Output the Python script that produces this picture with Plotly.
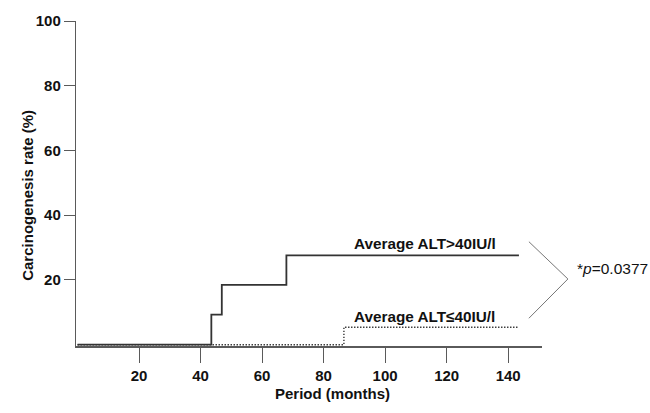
import plotly.graph_objects as go

# Data
high_x = [0, 43.5, 46.9, 67.9, 143.5]
high_y = [0, 9.3, 18.5, 27.6, 27.6]
low_x = [0, 86.6, 143.5]
low_y = [0, 5.4, 5.4]
x_ticks = [20, 40, 60, 80, 100, 120, 140]
y_ticks = [20, 40, 60, 80, 100]
label_high = "Average ALT>40IU/l"
label_low = "Average ALT≤40IU/l"
p_text = "*<i>p</i>=0.0377"

FONT = "Liberation Sans, Arial, sans-serif"
AX = "#5a5a5a"

fig = go.Figure()
fig.add_trace(go.Scatter(x=low_x, y=low_y, mode="lines", line_shape="hv",
                         line=dict(color="#333333", width=1.4, dash="1.4px,1.6px"),
                         hoverinfo="skip"))
fig.add_trace(go.Scatter(x=high_x, y=high_y, mode="lines", line_shape="hv",
                         line=dict(color="#333333", width=1.8),
                         hoverinfo="skip"))

ann = [
    dict(x=112.9, y=31.3, xref="x", yref="y", text="<b>%s</b>" % label_high,
         showarrow=False, font=dict(size=15.3, color="#111111", family=FONT)),
    dict(x=112.9, y=8.6, xref="x", yref="y", text="<b>%s</b>" % label_low,
         showarrow=False, font=dict(size=15.3, color="#111111", family=FONT)),
    dict(x=1.0706, y=0.206, xref="paper", yref="paper", text=p_text,
         xanchor="left", showarrow=False,
         font=dict(size=15.5, color="#111111", family=FONT)),
    dict(x=0.551, y=-0.177, xref="paper", yref="paper", text="<b>Period (months)</b>",
         showarrow=False, font=dict(size=15, color="#111111", family=FONT)),
    dict(x=-0.1273, y=0.4627, xref="paper", yref="paper",
         text="<b>Carcinogenesis rate (%)</b>", textangle=-90,
         showarrow=False, font=dict(size=15, color="#111111", family=FONT)),
]

shapes = [
    dict(type="line", xref="paper", yref="paper", x0=0.9719, y0=0.3209,
         x1=1.0556, y1=0.2062, line=dict(color="#777777", width=1)),
    dict(type="line", xref="paper", yref="paper", x0=1.0556, y0=0.2062,
         x1=0.9719, y1=0.0854, line=dict(color="#777777", width=1)),
]

fig.update_layout(
    width=650, height=413,
    margin=dict(l=76.3, r=107.9, t=15, b=66.7),
    paper_bgcolor="white", plot_bgcolor="white",
    showlegend=False,
    annotations=ann, shapes=shapes,
    font=dict(family=FONT, color="#111111"),
)
fig.update_xaxes(range=[-0.5, 151], tickvals=x_ticks,
                 ticktext=["<b>%d</b>" % v for v in x_ticks],
                 showgrid=False, zeroline=False, showline=True,
                 linecolor=AX, linewidth=1.8, ticks="outside", ticklen=15,
                 tickcolor=AX, tickwidth=1.2,
                 tickfont=dict(size=15, family=FONT, color="#111111"))
fig.update_yaxes(range=[-0.4, 100], tickvals=y_ticks,
                 ticktext=["<b>%d</b>" % v for v in y_ticks],
                 showgrid=False, zeroline=False, showline=True,
                 linecolor=AX, linewidth=1.4, ticks="outside", ticklen=11,
                 tickcolor=AX, tickwidth=1.2,
                 tickfont=dict(size=15, family=FONT, color="#111111"))

fig.write_html("out.html")
